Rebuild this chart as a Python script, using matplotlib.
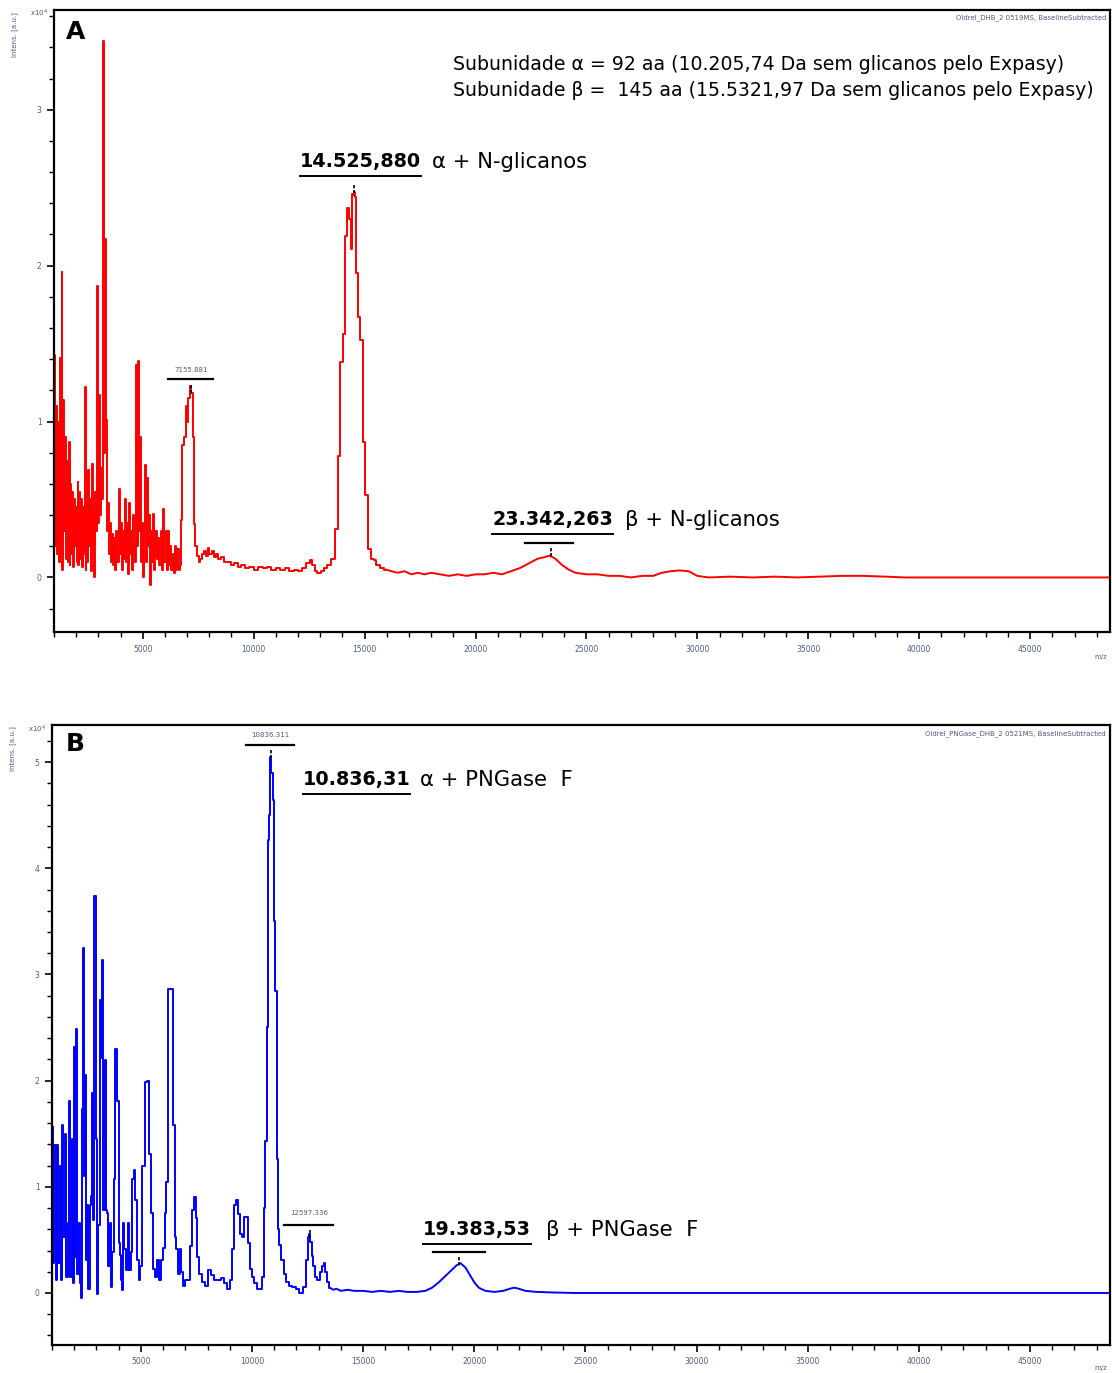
import matplotlib
matplotlib.use("Agg")
import matplotlib.pyplot as plt
import numpy as np
from matplotlib.ticker import MultipleLocator

# ---------------- data: panel A (red) ----------------
a_low_mz = [1000,1040,1080,1120,1160,1200,1240,1280,1320,1360,1400,1440,1480,1520,1560,1600,1640,1680,1720,1760,
            1800,1840,1880,1920,1960,2000,2040,2080,2120,2160,2200,2240,2280,2320,2360,2400,2440,2480,2520,2560,
            2600,2640,2680,2720,2760,2800,2840,2880,2920,2950,2990,3030,3080,3130,3180,3230,3270,3330,3380,3430,
            3470,3510,3560,3600,3650,3700,3740,3780,3830,3880,3940,3980,4030,4080,4120,4160,4200,4250,4300,4340,
            4390,4430,4480,4520,4570,4620,4660,4720,4760,4810,4850,4900,4940,4990,5040,5080,5130,5170,5230,5280,
            5320,5360,5410,5460,5500,5550,5600,5650,5720,5780,5850,5900,5950,6000,6060,6120,6180,6230,6270,6320,
            6380,6430,6480,6530,6600,6650,6700,6760,6820,6900,6960,7020,7080,7155,7220,7280,7330,7400,7480,7560,7640]
a_low_int = [0.9,1.43,0.2,1.1,0.15,1.0,0.1,1.41,0.25,1.96,0.05,1.14,0.3,0.9,0.12,0.75,0.1,0.87,0.08,0.6,
             0.15,0.55,0.07,0.5,0.2,0.45,0.1,0.61,0.08,0.55,0.12,0.5,0.07,0.45,0.15,1.22,0.05,0.6,0.1,0.69,
             0.2,0.5,0.04,0.73,0.15,0.4,0.0,0.55,0.3,1.87,0.35,1.17,0.4,0.7,0.5,3.44,0.8,2.17,1.01,0.3,
             0.48,0.15,0.35,0.1,0.28,0.08,0.25,0.05,0.3,0.1,0.57,0.15,0.35,0.05,0.3,0.12,0.5,0.1,0.35,0.02,
             0.48,0.15,0.3,0.05,0.4,0.2,0.1,1.36,0.2,1.39,0.3,0.9,0.1,0.35,0.0,0.3,0.72,0.1,0.64,0.2,
             0.4,-0.05,0.3,0.1,0.41,0.05,0.3,0.12,0.25,0.08,0.3,0.05,0.44,0.1,0.3,0.05,0.3,0.08,0.2,0.05,
             0.15,0.03,0.2,0.05,0.18,0.05,0.08,0.37,0.85,0.9,1.1,1.0,1.15,1.23,1.18,0.9,0.34,0.2,0.14,0.1,0.12]

a_mid_mz = [7720,7800,7880,7960,8050,8150,8250,8350,8450,8600,8750,8900,9050,9200,9350,9500,9700,9900,10100,10300,
            10500,10700,10900,11100,11300,11500,11700,11900,12100,12300,12450,12600,12700,12800,12950,13100,13250,13400]
a_mid_int = [0.15,0.17,0.14,0.19,0.15,0.17,0.13,0.15,0.12,0.13,0.1,0.1,0.08,0.09,0.07,0.08,0.06,0.07,0.05,0.07,
             0.06,0.07,0.05,0.06,0.05,0.06,0.04,0.05,0.04,0.06,0.09,0.11,0.08,0.04,0.03,0.04,0.06,0.08]

a_peak_mz = [13585,13735,13855,13960,14065,14140,14260,14335,14410,14485,14525,14605,14665,14740,14860,14965,15115,
             15235,15350,15460,15600,15800,15985]
a_peak_int = [0.12,0.31,0.78,1.38,1.56,2.19,2.37,2.3,2.11,2.46,2.47,2.44,1.95,1.67,1.52,0.87,0.53,
              0.18,0.12,0.11,0.08,0.06,0.05]

a_tail_mz = [15985,16200,16500,16800,17100,17400,17700,18000,18400,18800,19200,19600,20000,20400,20800,21200,21600,22000,
             22400,22800,23100,23342,23600,23900,24200,24500,25000,25500,26000,26500,27000,27500,28000,28400,28800,
             29200,29600,30000,30500,31500,32500,33500,34500,35500,36500,37500,38500,39300,40000,48600]
a_tail_int = [0.05,0.04,0.03,0.04,0.02,0.03,0.02,0.03,0.02,0.01,0.02,0.01,0.02,0.02,0.03,0.02,0.04,0.06,
              0.09,0.12,0.13,0.14,0.12,0.08,0.05,0.03,0.02,0.02,0.01,0.01,0.0,0.01,0.01,0.03,0.04,
              0.045,0.04,0.01,0.0,0.005,0.0,0.005,0.0,0.005,0.01,0.01,0.005,0.0,0.0,0.0]

# ---------------- data: panel B (blue) ----------------
b_low_mz = [1030,1060,1135,1181,1256,1316,1361,1421,1482,1542,1602,1662,1737,1798,1858,1918,1963,2008,2069,2114,
            2174,2234,2279,2324,2370,2430,2475,2520,2565,2610,2671,2731,2776,2821,2866,2941,3002,3062,3122,3167,
            3227,3273,3333,3393,3438,3498,3559,3619,3679,3739,3799,3890,3965,4025,4070,4115,4160,4220,4296,4371,
            4446,4521,4597,4642,4717,4793,4868,4928,5003,5124,5214,5319,5394,5500,5575,5651,5756,5846,5952,6027,
            6117,6177,6268,6403,6478,6554,6629,6704,6779,6855,6930,7005,7156,7261,7351,7426,7502,7577,7682,7802,
            7922,8103,8208,8359,8509,8660,8811,8961,9066,9142,9232,9337,9428,9488,9593,9668,9789,9864,9939,10044,
            10165,10315,10420]
b_low_int = [1.56,0.28,1.39,0.12,1.39,0.28,1.2,0.12,1.58,0.53,1.5,0.15,0.66,1.81,0.15,1.45,0.09,2.32,0.34,2.49,
             0.18,0.66,0.09,-0.05,1.73,3.25,1.1,2.05,0.31,0.83,0.04,0.83,0.91,1.88,0.69,3.74,1.45,-0.01,0.64,2.76,
             2.21,3.14,0.78,2.19,0.78,0.75,0.25,0.66,0.06,0.39,1.07,2.3,1.81,0.47,0.36,0.12,0.03,0.66,0.41,0.22,
             0.66,0.22,0.39,1.07,1.16,0.88,0.31,0.12,0.25,1.2,1.99,2.0,1.31,0.75,0.23,0.15,0.31,0.12,0.31,0.42,
             0.75,1.05,2.86,2.86,1.58,0.53,0.41,0.18,0.41,0.2,0.07,0.12,0.12,0.44,0.78,0.9,0.71,0.34,0.18,0.1,
             0.07,0.22,0.17,0.12,0.12,0.14,0.09,0.04,0.12,0.41,0.83,0.88,0.74,0.56,0.53,0.72,0.72,0.47,0.23,0.15,
             0.09,0.04,0.04]

b_peak_mz = [10495,10540,10617,10692,10752,10800,10836,10900,10977,11030,11068,11143,11200,11263,11368,11489,11594,
             11745,11895,12046,12196,12347,12467,12572,12597,12648,12720,12798,12873,12950,13023,13100,13180,13260,
             13340,13420,13500]
b_peak_int = [0.15,0.8,1.43,2.51,4.27,4.5,5.05,4.9,4.64,3.5,2.84,1.26,0.6,0.45,0.31,0.18,0.1,
              0.07,0.06,0.04,0.0,0.06,0.31,0.53,0.56,0.48,0.35,0.25,0.15,0.12,0.12,0.2,0.25,0.28,
              0.2,0.1,0.05]

b_tail_mz = [13500,13650,13800,14000,14300,14600,15000,15400,15800,16200,16600,17000,17400,17800,18100,18400,18700,19000,
             19200,19383,19600,19800,20000,20200,20500,20900,21300,21600,21800,22000,22300,22800,23500,24500,48600]
b_tail_int = [0.05,0.03,0.04,0.02,0.03,0.02,0.02,0.01,0.02,0.01,0.02,0.01,0.01,0.02,0.05,0.1,0.16,0.22,
              0.26,0.28,0.24,0.17,0.1,0.05,0.02,0.01,0.02,0.04,0.05,0.04,0.02,0.01,0.005,0.0,0.0]

x_ticks = [5000, 10000, 15000, 20000, 25000, 30000, 35000, 40000, 45000]
ya_ticks = [0, 1, 2, 3]
yb_ticks = [0, 1, 2, 3, 4, 5]

mz_a_step = np.array(a_low_mz + a_mid_mz + a_peak_mz)
int_a_step = np.array(a_low_int + a_mid_int + a_peak_int)
mz_b_step = np.array(b_low_mz + b_peak_mz)
int_b_step = np.array(b_low_int + b_peak_int)

W, H = 1112, 1373
fig = plt.figure(figsize=(W / 100, H / 100), dpi=100)
plt.rcParams['font.family'] = ['DejaVu Sans']

def px_axes(l, t, r, b):
    return fig.add_axes([l / W, 1 - b / H, (r - l) / W, (b - t) / H])

axA = px_axes(54, 10, 1110, 632)
axB = px_axes(52, 725, 1110, 1345)

tick_color = '#4d5b80'

def style(ax, ylim, yticks):
    ax.set_xlim(1000, 48600)
    ax.set_ylim(*ylim)
    for s in ax.spines.values():
        s.set_linewidth(1.6)
        s.set_color('black')
    ax.set_xticks(x_ticks)
    ax.set_xticklabels([str(v) for v in x_ticks])
    ax.xaxis.set_minor_locator(MultipleLocator(1000))
    ax.set_yticks(yticks)
    ax.set_yticklabels([str(v) for v in yticks])
    ax.yaxis.set_minor_locator(MultipleLocator(0.2))
    ax.tick_params(axis='both', which='major', direction='out', length=5, width=1.2,
                   labelsize=5.5, labelcolor=tick_color, pad=4)
    ax.tick_params(axis='both', which='minor', direction='out', length=3.5, width=1.0)

axA.plot(mz_a_step, int_a_step, color='#ff0000', lw=1.4, drawstyle='steps-mid')
axA.plot(a_tail_mz, a_tail_int, color='#ff0000', lw=1.4)
style(axA, (-0.35, 3.64), ya_ticks)
axB.plot(mz_b_step, int_b_step, color='#0000ff', lw=1.4, drawstyle='steps-mid')
axB.plot(b_tail_mz, b_tail_int, color='#0000ff', lw=1.4)
style(axB, (-0.49, 5.35), yb_ticks)

def ftxt(xp, yp, s, **kw):
    fig.text(xp / W, 1 - yp / H, s, **kw)

ftxt(1106, 18, 'Oldrel_DHB_2 0519MS, BaselineSubtracted', fontsize=5, color=tick_color, ha='right', va='center')
ftxt(1106, 734, 'Oldrel_PNGase_DHB_2 0521MS, BaselineSubtracted', fontsize=5, color=tick_color, ha='right', va='center')
ftxt(15, 12, 'Intens. [a.u.]', fontsize=5, color=tick_color, rotation=90, ha='center', va='top')
ftxt(13, 726, 'Intens. [a.u.]', fontsize=5, color=tick_color, rotation=90, ha='center', va='top')
ftxt(30, 13, 'x10$^4$', fontsize=5, color=tick_color, ha='left', va='center')
ftxt(28, 729, 'x10$^4$', fontsize=5, color=tick_color, ha='left', va='center')
ftxt(1101, 657, 'm/z', fontsize=5, color=tick_color, ha='center', va='center')
ftxt(1101, 1368, 'm/z', fontsize=5, color=tick_color, ha='center', va='center')

ftxt(76, 32, 'A', fontsize=18, fontweight='bold', ha='center', va='center')
ftxt(75, 744, 'B', fontsize=18, fontweight='bold', ha='center', va='center')

ftxt(453, 65, 'Subunidade α = 92 aa (10.205,74 Da sem glicanos pelo Expasy)', fontsize=13.6, ha='left', va='center')
ftxt(453, 91, 'Subunidade β =  145 aa (15.5321,97 Da sem glicanos pelo Expasy)', fontsize=13.6, ha='left', va='center')

def hline(x0, x1, y, lw=1.6):
    fig.add_artist(plt.Line2D([x0 / W, x1 / W], [1 - y / H, 1 - y / H], color='black', lw=lw))

def vtick(x, y0, y1):
    fig.add_artist(plt.Line2D([x / W, x / W], [1 - y0 / H, 1 - y1 / H], color='black', lw=1.2, ls=(0, (2, 1))))

def big_label(xnum, y, num, rest, xrest, underline_end):
    ftxt(xnum, y, num, fontsize=13.8, fontweight='bold', ha='left', va='center')
    hline(xnum, underline_end, y + 14, lw=1.4)
    ftxt(xrest, y, rest, fontsize=15.2, ha='left', va='center')

big_label(300, 162, '14.525,880', 'α + N-glicanos', 432, 421)
vtick(354, 185, 196)
big_label(492, 520, '23.342,263', 'β + N-glicanos', 625, 613)
hline(525, 573, 543)
vtick(551, 548, 557)
ftxt(191, 370, '7155.881', fontsize=5, color=tick_color, ha='center', va='center')
hline(168, 213, 379)
vtick(191, 385, 395)

ftxt(270, 735, '10836.311', fontsize=5, color=tick_color, ha='center', va='center')
hline(246, 294, 745)
vtick(271, 750, 758)
big_label(303, 780, '10.836,31', 'α + PNGase  F', 420, 410)
ftxt(309, 1213, '12597.336', fontsize=5, color=tick_color, ha='center', va='center')
hline(284, 333, 1225)
vtick(310, 1230, 1238)
big_label(423, 1230, '19.383,53', 'β + PNGase  F', 546, 531)
hline(433, 485, 1252)
vtick(459, 1257, 1266)

fig.savefig('out.png', dpi=100)
